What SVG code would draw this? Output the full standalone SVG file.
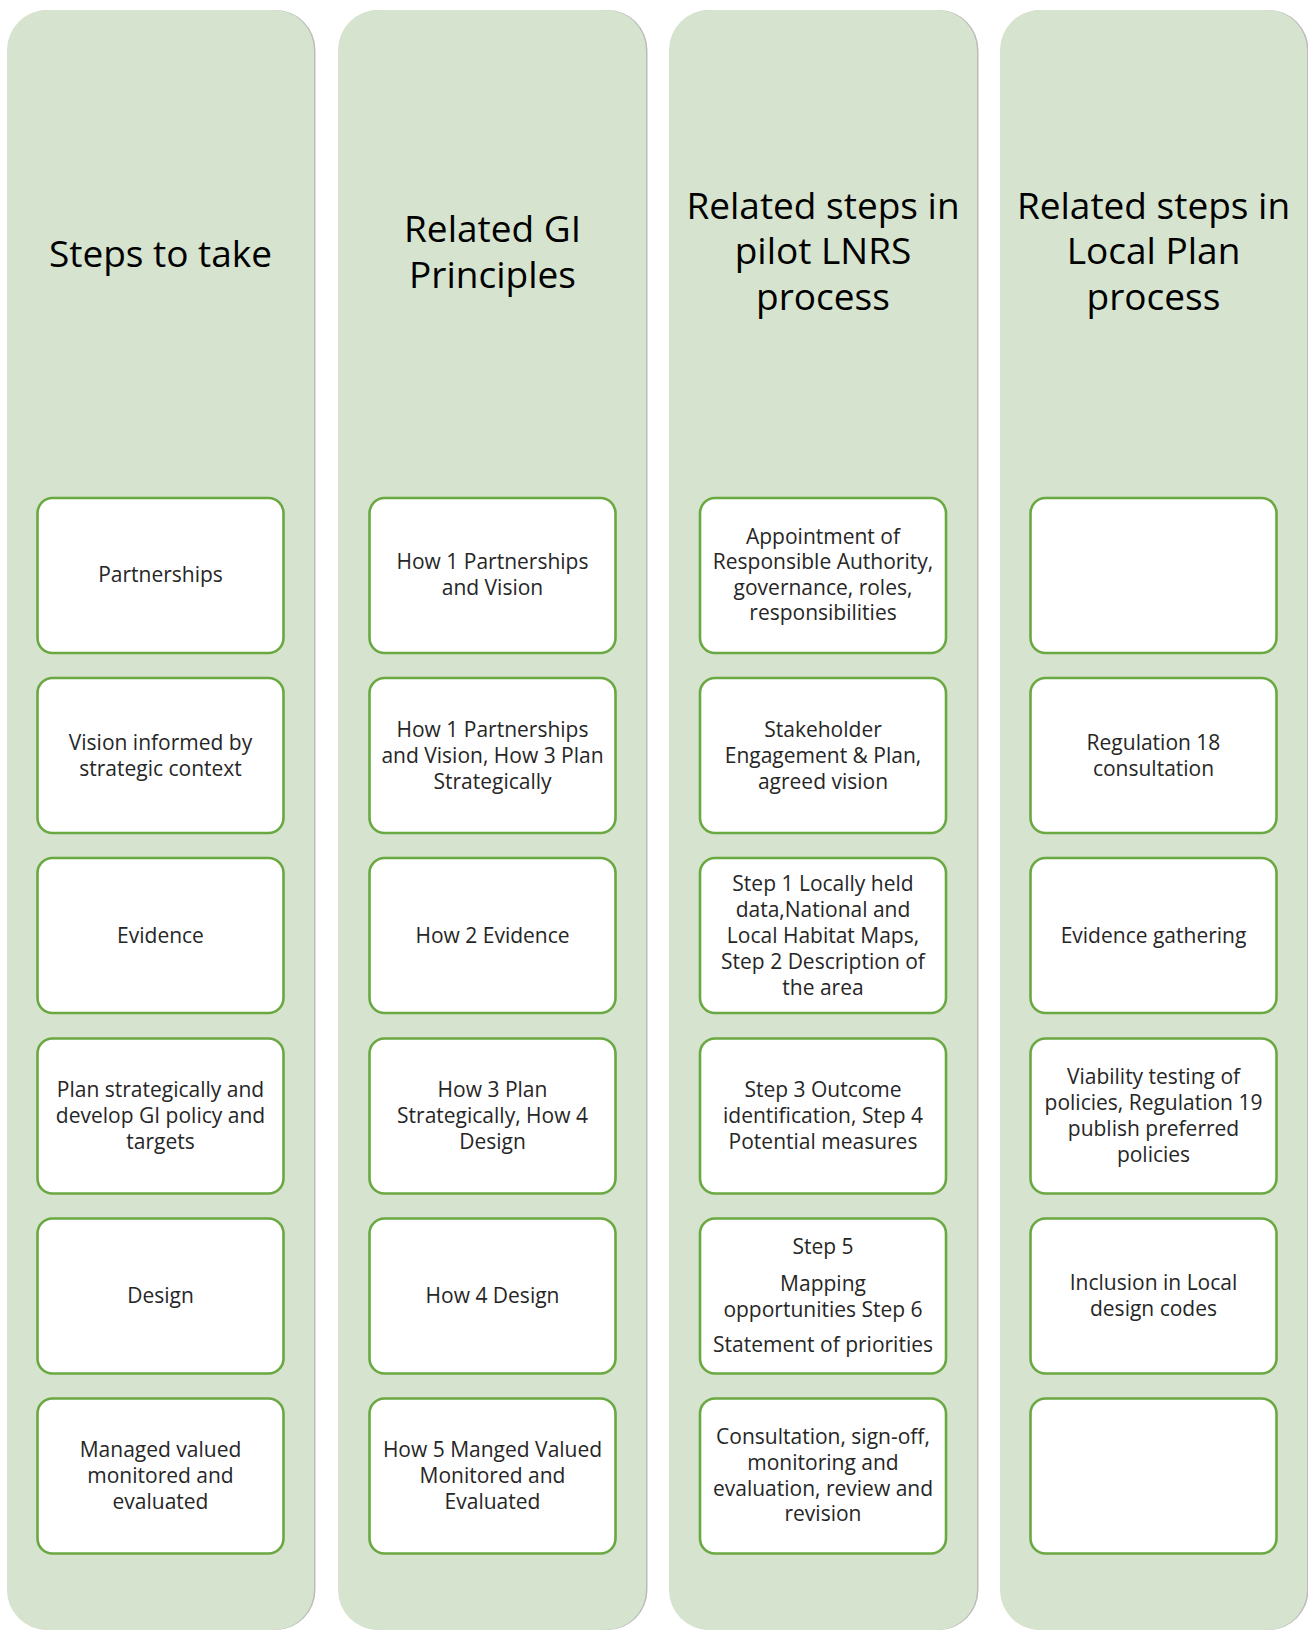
<svg xmlns="http://www.w3.org/2000/svg" width="1308" height="1630" viewBox="0 0 1308 1630">
<style>
.shadow{fill:#b9bdb6;}
.col{fill:#d6e3ce;}
.box{fill:#ffffff;stroke:#6aa842;stroke-width:2.6;}
.head{font-family:"Open Sans",Lato,sans-serif;font-size:37px;fill:#000000;text-anchor:middle;}
.t{font-family:"Open Sans",Lato,sans-serif;font-size:21px;fill:#262626;text-anchor:middle;}
</style>
<rect width="1308" height="1630" fill="#ffffff"/>
<g id="column-1">
<rect class="shadow" x="8.5" y="10" width="307" height="1620" rx="40"/>
<rect class="col" x="7" y="10" width="307" height="1620" rx="40"/>
<text class="head" x="160.5" y="267">Steps to take</text>
</g>
<g id="column-2">
<rect class="shadow" x="339.5" y="10" width="308" height="1620" rx="40"/>
<rect class="col" x="338" y="10" width="308" height="1620" rx="40"/>
<text class="head" x="492.5" y="242">Related GI</text>
<text class="head" x="492.5" y="288">Principles</text>
</g>
<g id="column-3">
<rect class="shadow" x="670.5" y="10" width="308" height="1620" rx="40"/>
<rect class="col" x="669" y="10" width="308" height="1620" rx="40"/>
<text class="head" x="823" y="219">Related steps in</text>
<text class="head" x="823" y="264">pilot LNRS</text>
<text class="head" x="823" y="310">process</text>
</g>
<g id="column-4">
<rect class="shadow" x="1001.5" y="10" width="307" height="1620" rx="40"/>
<rect class="col" x="1000" y="10" width="307" height="1620" rx="40"/>
<text class="head" x="1153.5" y="219">Related steps in</text>
<text class="head" x="1153.5" y="264">Local Plan</text>
<text class="head" x="1153.5" y="310">process</text>
</g>

<g id="c1r1"><rect class="box" x="37.5" y="498" width="246" height="155" rx="15"/>
<text class="t" x="160.5" y="582">Partnerships</text></g>
<g id="c1r2"><rect class="box" x="37.5" y="678" width="246" height="155" rx="15"/>
<text class="t" x="160.5" y="749.5">Vision informed by</text><text class="t" x="160.5" y="775.5">strategic context</text></g>
<g id="c1r3"><rect class="box" x="37.5" y="858" width="246" height="155" rx="15"/>
<text class="t" x="160.5" y="943">Evidence</text></g>
<g id="c1r4"><rect class="box" x="37.5" y="1038.5" width="246" height="155" rx="15"/>
<text class="t" x="160.5" y="1097">Plan strategically and</text><text class="t" x="160.5" y="1123">develop GI policy and</text><text class="t" x="160.5" y="1149">targets</text></g>
<g id="c1r5"><rect class="box" x="37.5" y="1218.5" width="246" height="155" rx="15"/>
<text class="t" x="160.5" y="1303">Design</text></g>
<g id="c1r6"><rect class="box" x="37.5" y="1398.5" width="246" height="155" rx="15"/>
<text class="t" x="160.5" y="1457">Managed valued</text><text class="t" x="160.5" y="1483">monitored and</text><text class="t" x="160.5" y="1509">evaluated</text></g>

<g id="c2r1"><rect class="box" x="369.5" y="498" width="246" height="155" rx="15"/>
<text class="t" x="492.5" y="569">How 1 Partnerships</text><text class="t" x="492.5" y="595">and Vision</text></g>
<g id="c2r2"><rect class="box" x="369.5" y="678" width="246" height="155" rx="15"/>
<text class="t" x="492.5" y="736.5">How 1 Partnerships</text><text class="t" x="492.5" y="762.5">and Vision, How 3 Plan</text><text class="t" x="492.5" y="788.5">Strategically</text></g>
<g id="c2r3"><rect class="box" x="369.5" y="858" width="246" height="155" rx="15"/>
<text class="t" x="492.5" y="943">How 2 Evidence</text></g>
<g id="c2r4"><rect class="box" x="369.5" y="1038.5" width="246" height="155" rx="15"/>
<text class="t" x="492.5" y="1097">How 3 Plan</text><text class="t" x="492.5" y="1123">Strategically, How 4</text><text class="t" x="492.5" y="1149">Design</text></g>
<g id="c2r5"><rect class="box" x="369.5" y="1218.5" width="246" height="155" rx="15"/>
<text class="t" x="492.5" y="1303">How 4 Design</text></g>
<g id="c2r6"><rect class="box" x="369.5" y="1398.5" width="246" height="155" rx="15"/>
<text class="t" x="492.5" y="1457">How 5 Manged Valued</text><text class="t" x="492.5" y="1483">Monitored and</text><text class="t" x="492.5" y="1509">Evaluated</text></g>

<g id="c3r1"><rect class="box" x="700" y="498" width="246" height="155" rx="15"/>
<text class="t" x="823" y="543.5">Appointment of</text><text class="t" x="823" y="569">Responsible Authority,</text><text class="t" x="823" y="594.5">governance, roles,</text><text class="t" x="823" y="620">responsibilities</text></g>
<g id="c3r2"><rect class="box" x="700" y="678" width="246" height="155" rx="15"/>
<text class="t" x="823" y="736.5">Stakeholder</text><text class="t" x="823" y="762.5">Engagement &amp; Plan,</text><text class="t" x="823" y="788.5">agreed vision</text></g>
<g id="c3r3"><rect class="box" x="700" y="858" width="246" height="155" rx="15"/>
<text class="t" x="823" y="891">Step 1 Locally held</text><text class="t" x="823" y="917">data,National and</text><text class="t" x="823" y="943">Local Habitat Maps,</text><text class="t" x="823" y="969">Step 2 Description of</text><text class="t" x="823" y="995">the area</text></g>
<g id="c3r4"><rect class="box" x="700" y="1038.5" width="246" height="155" rx="15"/>
<text class="t" x="823" y="1097">Step 3 Outcome</text><text class="t" x="823" y="1123">identification, Step 4</text><text class="t" x="823" y="1149">Potential measures</text></g>
<g id="c3r5"><rect class="box" x="700" y="1218.5" width="246" height="155" rx="15"/>
<text class="t" x="823" y="1253.5">Step 5</text><text class="t" x="823" y="1291">Mapping</text><text class="t" x="823" y="1317">opportunities Step 6</text><text class="t" x="823" y="1352">Statement of priorities</text></g>
<g id="c3r6"><rect class="box" x="700" y="1398.5" width="246" height="155" rx="15"/>
<text class="t" x="823" y="1443.5">Consultation, sign-off,</text><text class="t" x="823" y="1469.5">monitoring and</text><text class="t" x="823" y="1495.5">evaluation, review and</text><text class="t" x="823" y="1521">revision</text></g>

<g id="c4r1"><rect class="box" x="1030.5" y="498" width="246" height="155" rx="15"/></g>
<g id="c4r2"><rect class="box" x="1030.5" y="678" width="246" height="155" rx="15"/>
<text class="t" x="1153.5" y="749.5">Regulation 18</text><text class="t" x="1153.5" y="775.5">consultation</text></g>
<g id="c4r3"><rect class="box" x="1030.5" y="858" width="246" height="155" rx="15"/>
<text class="t" x="1153.5" y="943">Evidence gathering</text></g>
<g id="c4r4"><rect class="box" x="1030.5" y="1038.5" width="246" height="155" rx="15"/>
<text class="t" x="1153.5" y="1084">Viability testing of</text><text class="t" x="1153.5" y="1110">policies, Regulation 19</text><text class="t" x="1153.5" y="1136">publish preferred</text><text class="t" x="1153.5" y="1162">policies</text></g>
<g id="c4r5"><rect class="box" x="1030.5" y="1218.5" width="246" height="155" rx="15"/>
<text class="t" x="1153.5" y="1290">Inclusion in Local</text><text class="t" x="1153.5" y="1316">design codes</text></g>
<g id="c4r6"><rect class="box" x="1030.5" y="1398.5" width="246" height="155" rx="15"/></g>
<g id="connectors"></g>
</svg>
